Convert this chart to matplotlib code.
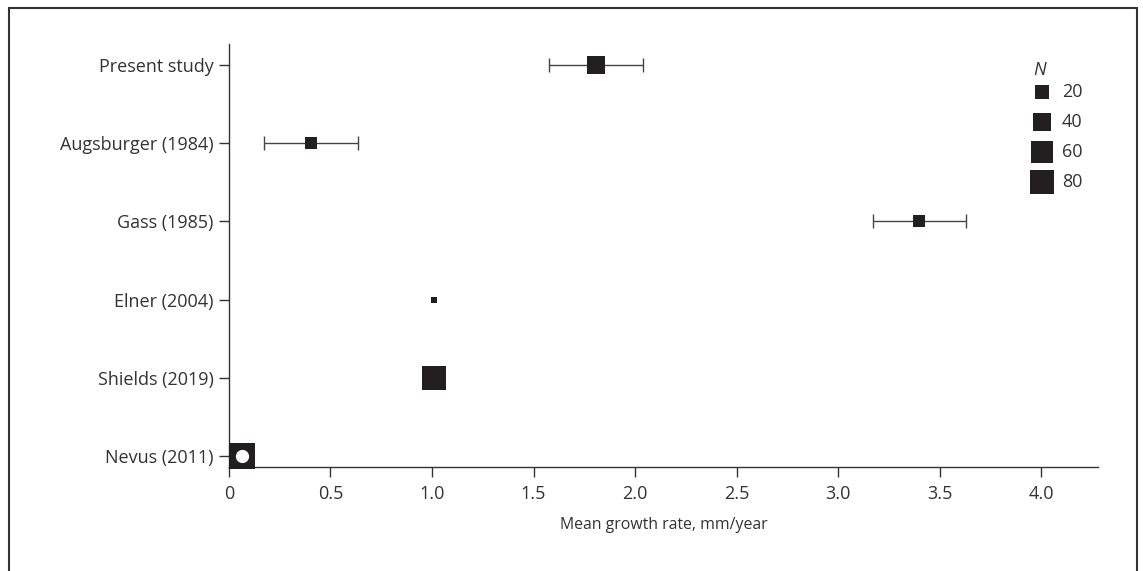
import numpy as np
import matplotlib.pyplot as plt
from matplotlib.patches import Rectangle

studies = ["Nevus (2011)", "Shields (2019)", "Elner (2004)",
           "Gass (1985)", "Augsburger (1984)", "Present study"]
mean_rate = [0.064, 1.01, 1.01, 3.40, 0.404, 1.806]
err_low = [None, None, None, 3.174, 0.172, 1.575]
err_high = [None, None, None, 3.632, 0.635, 2.037]
n_cases = [128, 80, 6, 13, 13, 32]
legend_n = [20, 40, 60, 80]
x_ticks = [0, 0.5, 1.0, 1.5, 2.0, 2.5, 3.0, 3.5, 4.0]
x_tick_labels = ["0", "0.5", "1.0", "1.5", "2.0", "2.5", "3.0", "3.5", "4.0"]

DARK = "#231f20"
TXT = "#333333"


def marker_pts(n):
    # square side in pixels grows with log(N), converted to points (dpi 100)
    side_px = 14 + 6.5 * (np.log(n) - np.log(20))
    return side_px * 0.72


def main():
    plt.rcParams["font.family"] = ["Open Sans", "DejaVu Sans"]
    fig = plt.figure(figsize=(11.43, 5.71), dpi=100)
    ax = fig.add_axes([0.2003, 0.1821, 0.7603, 0.741])

    y = np.arange(len(studies))
    for i in range(len(studies)):
        if err_low[i] is not None:
            ax.errorbar(mean_rate[i], y[i],
                        xerr=[[mean_rate[i] - err_low[i]], [err_high[i] - mean_rate[i]]],
                        fmt="none", ecolor="#444444", elinewidth=1.0,
                        capsize=5, capthick=1.0, zorder=2)
        ax.plot(mean_rate[i], y[i], marker="s", linestyle="none",
                markersize=marker_pts(n_cases[i]), color=DARK,
                markeredgewidth=0, zorder=3, clip_on=False)

    # Nevus marked with a white dot
    ax.plot(mean_rate[0], y[0], marker="o", linestyle="none", markersize=9.5,
            color="white", markeredgewidth=0, zorder=4, clip_on=False)

    ax.set_xlim(0, 4.28)
    ax.set_ylim(-0.14, 5.27)
    ax.set_yticks(y)
    ax.set_yticklabels(studies)
    ax.set_xticks(x_ticks)
    ax.set_xticklabels(x_tick_labels)
    ax.set_xlabel("Mean growth rate, mm/year", fontsize=11.4, color=TXT, labelpad=10)

    ax.spines["right"].set_visible(False)
    ax.spines["top"].set_visible(False)
    for s in ["left", "bottom"]:
        ax.spines[s].set_color("#333333")
        ax.spines[s].set_linewidth(1.0)
    ax.tick_params(axis="both", length=7, width=1.0, color="#333333",
                   labelsize=13, labelcolor=TXT, pad=4)
    ax.tick_params(axis="x", pad=6)

    # legend for N, drawn by hand in axes coordinates
    ax.text(0.926, 0.9385, "N", transform=ax.transAxes, fontsize=13,
            fontstyle="italic", color=TXT, ha="left", va="center")
    for k, n in enumerate(legend_n):
        ly = 0.887 - k * 0.0715
        ax.plot(0.9356, ly, marker="s", linestyle="none", color=DARK,
                markeredgewidth=0, markersize=marker_pts(n),
                transform=ax.transAxes, clip_on=False)
        ax.text(0.9586, ly, str(n), transform=ax.transAxes, fontsize=13,
                color=TXT, ha="left", va="center")

    # frame around the figure
    fig.patches.append(Rectangle((0.0079, -0.05), 0.9869, 1.036,
                                 transform=fig.transFigure, fill=False,
                                 edgecolor="#333333", linewidth=1.5))

    plt.savefig("out.png", dpi=100)


if __name__ == '__main__':
    main()
